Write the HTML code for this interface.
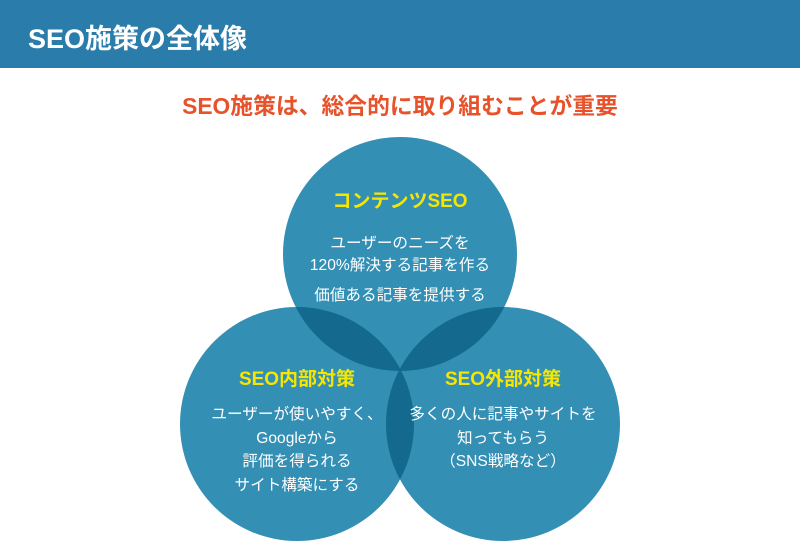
<!DOCTYPE html>
<html><head><meta charset="utf-8"><style>
html,body{margin:0;padding:0;background:#fff;}
body{width:800px;height:550px;overflow:hidden;position:relative;font-family:"Liberation Sans","Noto Sans CJK JP",sans-serif;}
.hd{position:absolute;left:0;top:0;width:800px;height:68px;background:#2a7dab;}
.hd span{position:absolute;left:28px;top:17px;color:#fff;font-size:27px;font-weight:bold;}
.sub{position:absolute;left:0;width:800px;top:88px;text-align:center;color:#e8522a;font-size:22.8px;font-weight:bold;}
svg{position:absolute;left:0;top:0;}
</style></head><body>
<div class="hd"><span>SEO施策の全体像</span></div>
<div class="sub">SEO施策は、総合的に取り組むことが重要</div>
<svg width="800" height="550" viewBox="0 0 800 550">
<defs>
<clipPath id="cT"><circle cx="400" cy="254" r="117"/></clipPath>
<clipPath id="cL"><circle cx="297" cy="424" r="117"/></clipPath>
</defs>
<g fill="#338fb4">
<circle cx="400" cy="254" r="117"/>
<circle cx="297" cy="424" r="117"/>
<circle cx="503" cy="424" r="117"/>
</g>
<g fill="#14698f">
<circle cx="297" cy="424" r="117" clip-path="url(#cT)"/>
<circle cx="503" cy="424" r="117" clip-path="url(#cT)"/>
<circle cx="503" cy="424" r="117" clip-path="url(#cL)"/>
</g>
<g font-family="Liberation Sans, Noto Sans CJK JP, sans-serif" text-anchor="middle">
<g fill="#f7e600" font-size="19" font-weight="bold">
<text x="400" y="207">コンテンツSEO</text>
<text x="297" y="385">SEO内部対策</text>
<text x="503" y="385">SEO外部対策</text>
</g>
<g fill="#fff" font-size="15.6">
<text x="400" y="248">ユーザーのニーズを</text>
<text x="400" y="270">120%解決する記事を作る</text>
<text x="400" y="300">価値ある記事を提供する</text>
<text x="297" y="419">ユーザーが使いやすく、</text>
<text x="297" y="443">Googleから</text>
<text x="297" y="466">評価を得られる</text>
<text x="297" y="490">サイト構築にする</text>
<text x="503" y="419">多くの人に記事やサイトを</text>
<text x="503" y="443">知ってもらう</text>
<text x="503" y="466">（SNS戦略など）</text>
</g>
</g>
</svg>
</body></html>
